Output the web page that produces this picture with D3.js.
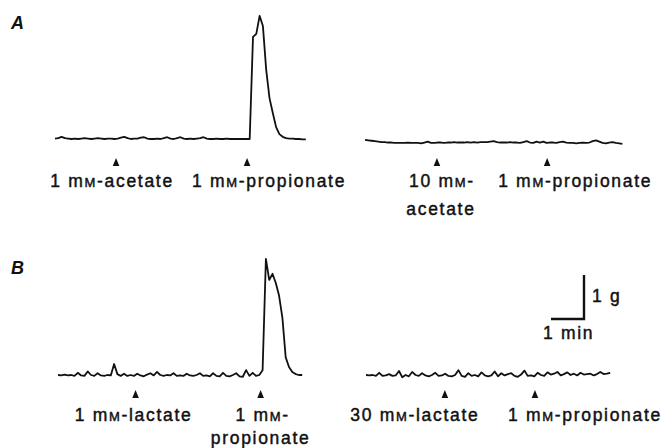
<!DOCTYPE html>
<html>
<head>
<meta charset="utf-8">
<script src="https://cdn.jsdelivr.net/npm/d3@7"></script>
<style>
  body { margin: 0; background: #fff; }
  text { font-family: "Liberation Sans", Arial, sans-serif; fill: #111; }
  .trace { fill: none; stroke: #111; stroke-width: 1.8; stroke-linejoin: round; }
  .lbl { font-size: 17.5px; letter-spacing: 1.7px; stroke: #111; stroke-width: 0.45px; }
  .panel { font-size: 18px; font-weight: bold; font-style: italic; }
</style>
</head>
<body>
<div id="chart"></div>
<script>
// tension traces (g above resting baseline), one sample every 0.1 min
var stepMin = 0.1;

var traceA1 = [
  0.01, 0.02, 0.05, 0.02, 0.01, 0, 0.01, 0, 0.01, 0.02,
  0.01, 0, 0.01, 0.02, 0.01, 0, 0.01, 0.01, 0, 0.01,
  0.03, 0.05, 0.02, 0, 0.01, 0.01, 0.03, 0.04, 0.01, 0,
  0, 0.01, 0, 0.02, 0.04, 0.01, 0, 0.02, 0.04, 0.01,
  0, 0.01, 0, 0.01, 0.02, 0.04, 0.01, 0, 0, 0.01,
  0, 0, 0.01, 0, 0, 0, 0, 0, 0, 0,
  2.32, 2.39, 2.80, 2.57, 1.57, 0.93, 0.59, 0.27, 0.11, 0.05,
  0.02, 0.01, 0.01, 0, 0, -0.01, -0.01
];

var traceA2 = [
  -0.02, -0.03, -0.04, -0.05, -0.06, -0.07, -0.07, -0.08, -0.08, -0.09,
  -0.09, -0.09, -0.09, -0.08, -0.09, -0.09, -0.09, -0.10, -0.08, -0.06,
  -0.09, -0.09, -0.08, -0.08, -0.09, -0.08, -0.08, -0.07, -0.08, -0.08,
  -0.08, -0.07, -0.08, -0.07, -0.08, -0.07, -0.07, -0.07, -0.06, -0.05,
  -0.07, -0.08, -0.08, -0.08, -0.07, -0.08, -0.08, -0.09, -0.07, -0.05,
  -0.08, -0.09, -0.06, -0.08, -0.06, -0.09, -0.08, -0.08, -0.09, -0.07,
  -0.06, -0.08, -0.09, -0.09, -0.10, -0.09, -0.08, -0.09, -0.08, -0.05,
  -0.03, -0.06, -0.09, -0.10, -0.08, -0.07, -0.09, -0.10, -0.11
];

var traceB1 = [
  0, -0.01, 0.01, -0.01, 0, -0.02, 0.05, -0.01, -0.02, 0.08,
  0, -0.02, 0.04, -0.01, -0.02, 0, -0.01, 0.25, 0.02, -0.02,
  0.03, -0.02, 0, -0.02, 0.03, -0.01, -0.03, 0.01, 0.04, -0.01,
  0.07, 0, -0.02, 0, -0.01, 0.04, -0.02, -0.01, -0.02, 0.03,
  -0.01, -0.02, 0, 0.04, -0.02, -0.01, -0.03, 0.04, -0.02, -0.03,
  0.05, -0.02, -0.03, 0, 0.04, -0.03, -0.04, 0.11, -0.02, 0.05,
  -0.02, 0, 0.11, 2.64, 2.16, 2.30, 2.09, 1.80, 1.30, 0.40,
  0.18, 0.07, 0.02, 0, 0
];

var traceB2 = [
  0, -0.01, 0, -0.02, 0.05, -0.02, -0.01, 0.02, -0.02, -0.01,
  0.09, -0.05, 0, -0.03, 0.07, 0, -0.02, 0.04, -0.01, -0.03,
  0, 0.05, -0.02, -0.01, 0.03, -0.02, -0.03, 0, 0.11, -0.02,
  -0.04, 0.04, -0.02, 0, -0.03, 0.06, -0.01, -0.03, -0.01, 0.08,
  -0.03, 0.04, -0.01, 0.02, 0.04, -0.02, -0.04, 0.01, 0.10, -0.02,
  -0.01, -0.03, 0.05, 0, -0.02, 0.06, 0.01, 0.03, 0.07, -0.01,
  0.02, 0.06, 0, 0.03, -0.01, 0.05, 0.01, 0.02, 0.03, -0.01,
  0.02, 0.07, 0.02, 0.03, 0.05
];

// additions: time (min from trace start) and label lines
var addA1 = [{ t: 1.85, lines: [["1 m", "M", "-acetate"]] },
             { t: 5.82, lines: [["1 m", "M", "-propionate"]] }];
var addA2 = [{ t: 2.18, lines: [["10 m", "M", "-"], ["acetate"]] },
             { t: 5.52, lines: [["1 m", "M", "-propionate"]] }];
var addB1 = [{ t: 2.35, lines: [["1 m", "M", "-lactate"]] },
             { t: 6.14, lines: [["1 m", "M", "-"], ["propionate"]] }];
var addB2 = [{ t: 2.39, lines: [["30 m", "M", "-lactate"]] },
             { t: 5.12, lines: [["1 m", "M", "-propionate"]] }];

var scaleBar = { min: 1, g: 1 };

var pxPerMin = 33, pxPerG = 44;
var width = 664, height = 448;

var svg = d3.select("#chart").append("svg")
    .attr("width", width)
    .attr("height", height);

// layout of each trace: x start, baseline y, label shifts from arrow
var traces = [
  { data: traceA1, adds: addA1, x0: 55,  y0: 139, arrowY: 158, textY: [187, 215], dx: [[-4], [22]] },
  { data: traceA2, adds: addA2, x0: 365, y0: 139, arrowY: 158, textY: [187, 215], dx: [[5, 4], [28]] },
  { data: traceB1, adds: addB1, x0: 58,  y0: 375, arrowY: 390, textY: [421, 444], dx: [[-2], [2, 0]] },
  { data: traceB2, adds: addB2, x0: 366, y0: 375, arrowY: 390, textY: [421, 444], dx: [[-30], [50]] }
];

traces.forEach(function (tr) {
    var dur = (tr.data.length - 1) * stepMin;
    var x = d3.scaleLinear()
        .domain([0, dur])
        .range([tr.x0, tr.x0 + dur * pxPerMin]);
    var y = d3.scaleLinear()
        .domain([0, 1])
        .range([tr.y0, tr.y0 - pxPerG]);

    var line = d3.line()
        .x(function (d, i) { return x(i * stepMin); })
        .y(function (d) { return y(d); });

    svg.append("path")
        .datum(tr.data)
        .attr("class", "trace")
        .attr("d", line);

    var g = svg.append("g");
    g.selectAll(".arrow")
        .data(tr.adds)
        .enter()
        .append("path")
        .attr("class", "arrow")
        .attr("d", function (d) {
            var ax = x(d.t), ay = tr.arrowY;
            return "M" + ax + "," + ay + "L" + (ax + 3.3) + "," + (ay + 8) + "L" + (ax - 3.3) + "," + (ay + 8) + "Z";
        })
        .attr("fill", "#111");

    tr.adds.forEach(function (d, i) {
        d.lines.forEach(function (parts, j) {
            var t = g.append("text")
                .attr("class", "lbl")
                .attr("text-anchor", "middle")
                .attr("x", x(d.t) + tr.dx[i][j])
                .attr("y", tr.textY[j]);
            parts.forEach(function (p, k) {
                var s = t.append("tspan").text(p);
                if (k === 1) s.style("font-size", "13px");
            });
        });
    });
});

// panel letters
svg.append("text").attr("class", "panel").attr("x", 11).attr("y", 29).text("A");
svg.append("text").attr("class", "panel").attr("x", 11).attr("y", 274).text("B");

// calibration bar
var bx = 584, by = 319;
var sx = d3.scaleLinear().domain([0, scaleBar.min]).range([bx - pxPerMin, bx]);
var sy = d3.scaleLinear().domain([0, scaleBar.g]).range([by, by - pxPerG]);
svg.append("path")
    .attr("d", "M" + sx(0) + "," + sy(0) + "H" + sx(scaleBar.min) + "V" + sy(scaleBar.g))
    .attr("fill", "none")
    .attr("stroke", "#111")
    .attr("stroke-width", 2.4);
svg.append("text").attr("class", "lbl").attr("x", 592).attr("y", 302).text("1 g");
svg.append("text").attr("class", "lbl").attr("x", 543).attr("y", 339).text("1 min");
</script>
</body>
</html>
